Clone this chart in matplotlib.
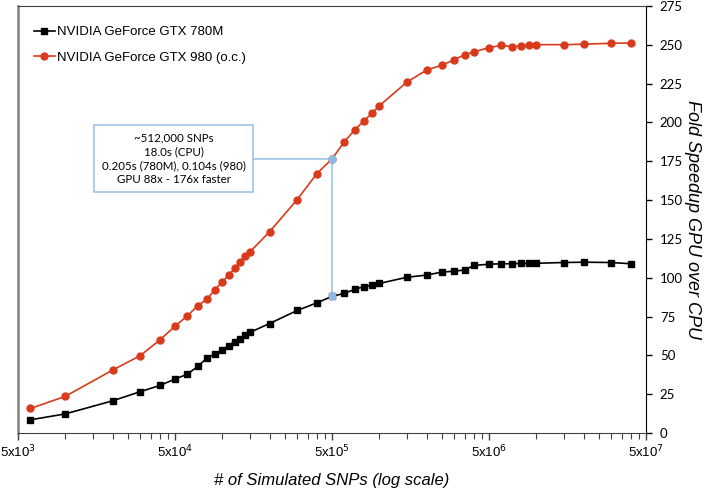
import matplotlib
matplotlib.use("Agg")
import matplotlib.pyplot as plt
from matplotlib.ticker import FixedLocator, NullFormatter
import numpy as np

plt.rcParams['font.family'] = ['Liberation Sans', 'DejaVu Sans']

snps = [6e3, 1e4, 2e4, 3e4, 4e4, 5e4, 6e4, 7e4, 8e4, 9e4, 1e5, 1.1e5, 1.2e5, 1.3e5,
        1.4e5, 1.5e5, 2e5, 3e5, 4e5, 5e5, 6e5, 7e5, 8e5, 9e5, 1e6, 1.5e6, 2e6, 2.5e6,
        3e6, 3.5e6, 4e6, 5e6, 6e6, 7e6, 8e6, 9e6, 1e7, 1.5e7, 2e7, 3e7, 4e7]
gtx780m = [8.5, 12.3, 20.7, 26.6, 30.6, 34.7, 37.9, 43.0, 48.3, 50.9, 53.4, 56.3, 58.9, 60.5,
           62.9, 64.8, 70.5, 78.9, 83.8, 88.0, 90.0, 92.5, 94.3, 95.2, 96.3, 100.3, 101.7, 103.6,
           104.2, 105.0, 107.9, 108.7, 109.0, 109.0, 109.2, 109.2, 109.3, 109.8, 110.0, 109.8, 109.0]
gtx980 = [15.8, 23.6, 40.5, 49.8, 59.9, 68.8, 75.5, 82.1, 86.2, 92.4, 97.4, 101.7, 106.0, 110.0,
          113.8, 116.6, 129.6, 150.3, 167.0, 176.5, 187.7, 195.3, 201.1, 206.0, 210.7, 226.0, 233.7, 236.9,
          240.3, 243.7, 245.4, 248.2, 249.7, 248.8, 249.3, 250.0, 250.1, 250.1, 250.4, 251.0, 251.2]
series_labels = ["NVIDIA GeForce GTX 780M", "NVIDIA GeForce GTX 980 (o.c.)"]

xtick_vals = [5e3, 5e4, 5e5, 5e6, 5e7]
xtick_labels = [r"5x10$^{3}$", r"5x10$^{4}$", r"5x10$^{5}$", r"5x10$^{6}$", r"5x10$^{7}$"]
ytick_vals = list(range(0, 276, 25))

annot_idx = 19
annot_text = "~512,000 SNPs\n18.0s (CPU)\n0.205s (780M), 0.104s (980)\nGPU 88x - 176x faster"

RED = '#D93A1B'
BLUE = '#9DC3E6'
BLUE_M = '#8DBBE8'

fig = plt.figure(figsize=(7.14, 4.93), dpi=100)
ax = fig.add_axes([18/714, 1-433/493, (646-18)/714, (433-6)/493])

ax.plot(snps, gtx780m, color='black', lw=1.2, marker='s', ms=5, label=series_labels[0], zorder=3)
ax.plot(snps, gtx980, color=RED, lw=1.2, marker='o', ms=5, label=series_labels[1], zorder=3)

ax.set_xscale('log')
ax.set_xlim(5e3, 5e7)
ax.set_ylim(0, 275)

ax.xaxis.set_major_locator(FixedLocator(xtick_vals))
ax.set_xticklabels(xtick_labels, fontsize=9.5)
minor = [5e3 * k * 10**n for n in range(4) for k in range(2, 10)]
ax.xaxis.set_minor_locator(FixedLocator(minor))
ax.xaxis.set_minor_formatter(NullFormatter())
ax.tick_params(axis='x', which='major', direction='out', length=5, width=1, color='#404040', pad=3)
ax.tick_params(axis='x', which='minor', direction='out', length=4, width=0.8, color='#404040')

ax.yaxis.tick_right()
ax.yaxis.set_label_position('right')
ax.set_yticks(ytick_vals)
ax.set_yticklabels([str(v) for v in ytick_vals], fontsize=9.5, family=['Lato', 'DejaVu Sans'])
ax.tick_params(axis='y', direction='out', length=4, width=1, color='black', pad=6)

ax.set_xlabel("# of Simulated SNPs (log scale)", fontsize=12, style='italic', labelpad=9)
ax.set_ylabel("Fold Speedup GPU over CPU", fontsize=13, style='italic', rotation=270,
              va='bottom', labelpad=1)

ax.spines['left'].set_color('#808080')
ax.spines['left'].set_linewidth(1.8)
ax.spines['top'].set_color('#404040')
ax.spines['top'].set_linewidth(0.8)
ax.spines['bottom'].set_color('#404040')
ax.spines['right'].set_color('black')

# annotation
ax.plot([snps[annot_idx], snps[annot_idx]], [gtx780m[annot_idx], gtx980[annot_idx]],
        color=BLUE, lw=1.2, zorder=2)
ax.plot([snps[annot_idx]], [gtx980[annot_idx]], marker='o', ms=5, color=BLUE_M, zorder=4, ls='none')
ax.plot([snps[annot_idx]], [gtx780m[annot_idx]], marker='s', ms=5, color=BLUE_M, zorder=4, ls='none')
ax.annotate(annot_text, xy=(snps[annot_idx], gtx980[annot_idx]),
            xytext=(0.248, gtx980[annot_idx]), textcoords=('axes fraction', 'data'),
            ha='center', va='center', fontsize=8.3, family=['Lato', 'DejaVu Sans'],
            linespacing=1.3,
            bbox=dict(boxstyle='square,pad=0.65', fc='white', ec=BLUE, lw=1.2),
            arrowprops=dict(arrowstyle='-', color=BLUE, lw=1.2, shrinkA=0, shrinkB=0))

leg = ax.legend(loc='upper left', bbox_to_anchor=(0.01, 0.975), frameon=False, fontsize=9.5,
                handlelength=1.6, handletextpad=0.2, labelspacing=1.0, borderaxespad=0.3)

fig.savefig('out.png', dpi=100)
